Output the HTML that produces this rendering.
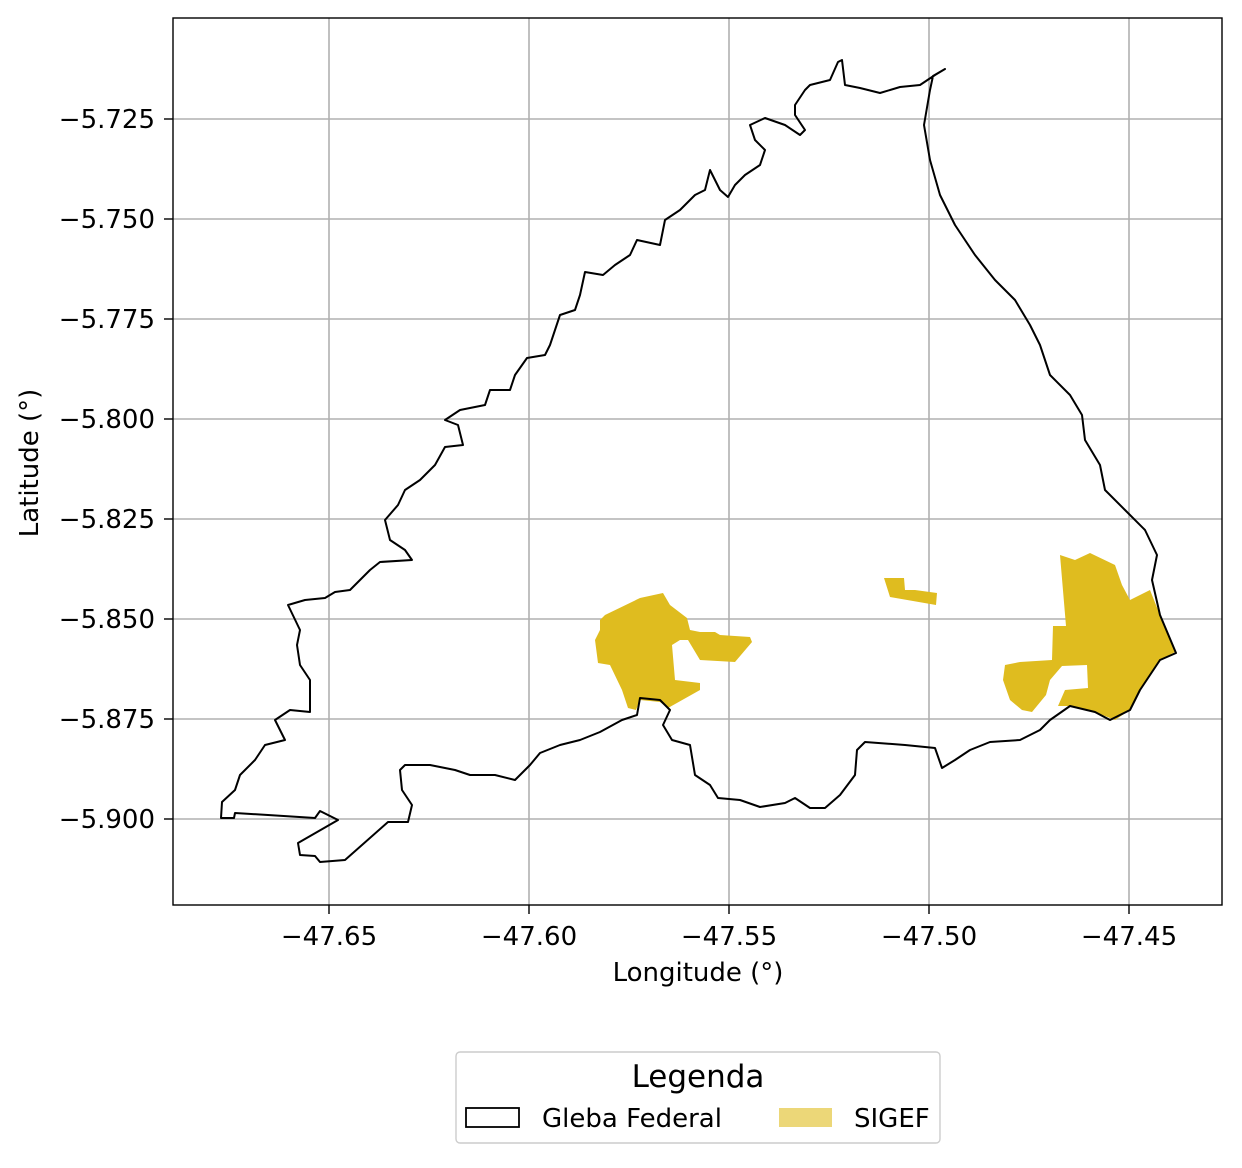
<!DOCTYPE html>
<html><head><meta charset="utf-8">
<style>
body{margin:0;background:#fff;font-family:"Liberation Sans","DejaVu Sans",sans-serif;}
svg text{font-family:"DejaVu Sans","Liberation Sans",sans-serif;fill:#000;}
</style></head>
<body>
<svg id="chart" width="1242" height="1163" viewBox="0 0 1242 1163" xmlns="http://www.w3.org/2000/svg">
<rect width="1242" height="1163" fill="#fff"/>
<g id="grid"></g>
<g id="shapes"></g>
<rect x="173" y="18" width="1049" height="887" fill="none" stroke="#000" stroke-width="1.4"/>
<g id="ticks"></g>
<text x="698" y="981" font-size="26" text-anchor="middle">Longitude (°)</text>
<text x="38" y="463" font-size="26" text-anchor="middle" transform="rotate(-90 38 463)">Latitude (°)</text>
<g>
<rect x="456" y="1052" width="484" height="91" rx="4" fill="#fff" stroke="#ccc" stroke-width="1.4"/>
<text x="698" y="1087" font-size="31" text-anchor="middle">Legenda</text>
<rect x="466" y="1108" width="53" height="19" fill="none" stroke="#000" stroke-width="1.8"/>
<text x="542" y="1127" font-size="26">Gleba Federal</text>
<rect x="779" y="1108" width="53" height="19" fill="#ecd778"/>
<text x="854" y="1127" font-size="26">SIGEF</text>
</g>
</svg>
<script>
const xTicks=[-47.65,-47.60,-47.55,-47.50,-47.45];
const yTicks=[-5.725,-5.750,-5.775,-5.800,-5.825,-5.850,-5.875,-5.900];
const glebaPx=[[945,69],[933,76],[930,90],[924,125],[930,160],[940,195],[955,225],[975,255],[995,280],[1015,300],[1030,325],[1040,345],[1050,375],[1070,395],[1082,415],[1085,440],[1100,465],[1105,490],[1125,510],[1145,530],[1157,555],[1152,580],[1160,615],[1176,653],[1160,660],[1150,675],[1140,690],[1130,710],[1110,720],[1095,712],[1070,706],[1050,720],[1040,730],[1020,740],[990,742],[970,750],[955,760],[942,768],[935,748],[905,745],[865,742],[857,750],[855,775],[840,795],[825,808],[810,808],[795,798],[785,803],[760,807],[740,800],[718,798],[710,785],[695,775],[690,745],[672,740],[663,725],[670,710],[660,700],[640,698],[637,715],[622,720],[600,732],[580,740],[560,745],[540,753],[530,765],[515,780],[495,775],[470,775],[455,770],[430,765],[405,765],[400,770],[402,790],[412,805],[408,822],[388,822],[345,860],[320,862],[315,856],[300,855],[298,843],[338,820],[320,811],[315,818],[268,815],[235,813],[234,818],[221,818],[222,802],[235,790],[240,775],[255,760],[265,745],[285,740],[275,720],[290,710],[310,712],[310,680],[300,665],[297,645],[300,630],[288,605],[305,600],[325,598],[335,592],[350,590],[370,570],[380,562],[412,560],[405,550],[390,540],[385,520],[398,505],[405,490],[420,480],[435,465],[445,447],[463,445],[458,425],[445,420],[460,410],[485,405],[490,390],[510,390],[515,375],[527,358],[545,355],[550,345],[555,330],[560,315],[575,310],[580,295],[585,272],[603,275],[615,265],[630,255],[637,240],[660,245],[665,220],[680,210],[695,195],[705,190],[710,170],[720,190],[728,197],[735,185],[745,175],[760,165],[765,150],[755,140],[750,125],[765,118],[785,125],[800,135],[805,130],[795,115],[795,105],[805,90],[810,85],[830,80],[838,62],[842,60],[845,85],[860,88],[880,93],[900,87],[920,85],[935,75]];
const sigefPx=[
[[600,620],[605,615],[640,598],[663,593],[670,605],[687,618],[690,630],[700,632],[715,632],[720,635],[750,637],[752,642],[735,662],[700,660],[688,640],[680,640],[672,645],[675,680],[700,683],[700,690],[668,708],[660,702],[640,700],[636,710],[628,708],[622,690],[610,665],[598,663],[595,640],[600,630]],
[[884,578],[904,578],[905,590],[915,590],[937,593],[936,605],[890,597]],
[[1060,555],[1075,560],[1090,553],[1115,565],[1122,585],[1130,600],[1150,590],[1160,615],[1175,652],[1160,660],[1150,675],[1140,690],[1130,710],[1115,720],[1095,712],[1070,706],[1058,706],[1065,690],[1088,688],[1087,665],[1062,666],[1050,680],[1046,695],[1032,712],[1022,710],[1010,700],[1003,680],[1005,665],[1020,662],[1052,660],[1053,626],[1066,626]]];
const toLon=p=>-47.65+(p-329)/4000, toLat=p=>-5.725-(p-119)/4000;
const glebaLon=glebaPx.map(p=>toLon(p[0])), glebaLat=glebaPx.map(p=>toLat(p[1]));
const sigefLon=sigefPx.map(r=>r.map(p=>toLon(p[0]))), sigefLat=sigefPx.map(r=>r.map(p=>toLat(p[1])));
const X=lon=>329+(lon+47.65)*4000, Y=lat=>119+(-5.725-lat)*4000;
const NS='http://www.w3.org/2000/svg';
function mk(t,a,parent){const e=document.createElementNS(NS,t);for(const k in a)e.setAttribute(k,a[k]);parent.appendChild(e);return e;}
const grid=document.getElementById('grid'),ticks=document.getElementById('ticks'),shapes=document.getElementById('shapes');
xTicks.forEach(v=>{const x=X(v);
 const g=mk('line',{x1:x,x2:x,y1:18,y2:905,stroke:'#b0b0b0','stroke-width':1.6},grid);
 
 
 const t=mk('line',{x1:x,x2:x,y1:905,y2:914,stroke:'#000','stroke-width':1.4},ticks);
 
 
 const l=mk('text',{x:x,y:945,'font-size':26,'text-anchor':'middle'},ticks);l.textContent='\u2212'+Math.abs(v).toFixed(2);
 
 });
yTicks.forEach(v=>{const y=Y(v);
 const g=mk('line',{x1:173,x2:1222,y1:y,y2:y,stroke:'#b0b0b0','stroke-width':1.6},grid);
 
 
 const t=mk('line',{x1:164,x2:173,y1:y,y2:y,stroke:'#000','stroke-width':1.4},ticks);
 
 
 const l=mk('text',{x:155,y:y+9,'font-size':26,'text-anchor':'end'},ticks);l.textContent='\u2212'+Math.abs(v).toFixed(3);
 
 });
sigefLon.forEach((r,i)=>{const pts=r.map((lon,j)=>X(lon)+','+Y(sigefLat[i][j])).join(' ');
 const p=mk('polygon',{points:pts,fill:'#dfbc1f'},shapes);
 
 });
const gp=mk('polygon',{points:glebaLon.map((lon,j)=>X(lon)+','+Y(glebaLat[j])).join(' '),fill:'none',stroke:'#000','stroke-width':2,'stroke-linejoin':'round'},shapes);


</script>
</body></html>
